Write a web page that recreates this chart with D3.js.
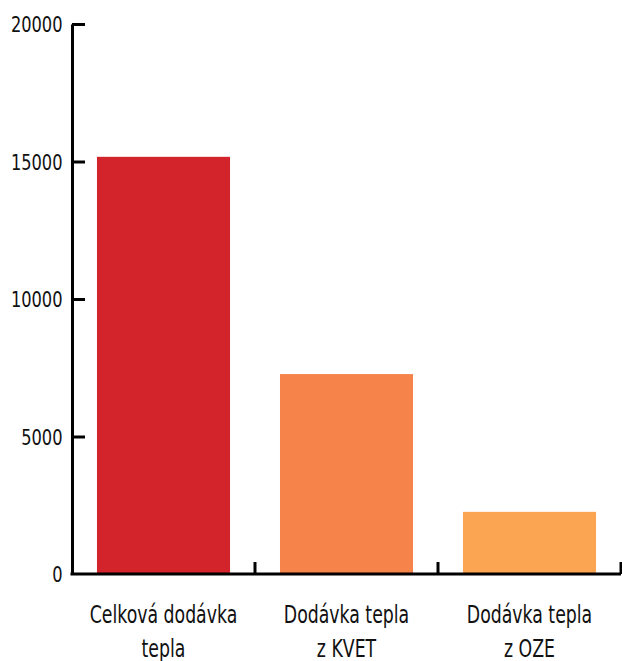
<!DOCTYPE html>
<html><head><meta charset="utf-8">
<script src="https://cdn.jsdelivr.net/npm/d3@7"></script>
<style>
body{margin:0;background:#fff;}
svg text{font-family:"DejaVu Sans Condensed","DejaVu Sans",sans-serif;fill:#111;}
</style></head><body>
<svg id="c" width="622" height="661"></svg>
<script>
const categories = ["Celková dodávka\ntepla", "Dodávka tepla\nz KVET", "Dodávka tepla\nz OZE"];
const values = [15170, 7270, 2260];
const colors = ["#d3242b", "#f5834a", "#fba553"];
const yTicks = [0, 5000, 10000, 15000, 20000];

const svg = d3.select("#c");
const mLeft = 72, mRight = 621, mTop = 24, mBottom = 574;

const x = d3.scaleBand().domain(categories).range([mLeft, mRight]).paddingInner(0.273).paddingOuter(0.1365);
const y = d3.scaleLinear().domain([0, 20000]).range([mBottom, mTop]);

svg.selectAll("rect.bar").data(values).enter().append("rect")
  .attr("class","bar")
  .attr("x",(d,i)=>x(categories[i]))
  .attr("width",x.bandwidth())
  .attr("y",d=>y(d))
  .attr("height",d=>y(0)-y(d))
  .attr("fill",(d,i)=>colors[i]);

// y axis
const ya = svg.append("g").attr("transform",`translate(${mLeft},0)`)
  .call(d3.axisLeft(y).tickValues(yTicks).tickSize(-13).tickSizeOuter(0).tickPadding(11).tickFormat(d3.format("d")));
ya.select(".domain").attr("stroke","#000").attr("stroke-width",3);
ya.selectAll(".tick line").attr("stroke","#000").attr("stroke-width",3);
ya.selectAll(".tick").filter(d=>d===0).select("line").remove();
ya.selectAll(".tick text").style("font-size","21px").attr("dy","0.36em").attr("transform","scale(0.86,1)");

// x axis
const xa = svg.append("g").attr("transform",`translate(0,${mBottom})`);
xa.append("line").attr("x1",mLeft-1.5).attr("x2",mRight).attr("y1",0).attr("y2",0).attr("stroke","#000").attr("stroke-width",3);
const bounds = categories.map(c => x(c) + x.bandwidth() + x.step()*x.paddingInner()/2);
xa.selectAll("line.tk").data(bounds).enter().append("line").attr("class","tk")
  .attr("x1",d=>d).attr("x2",d=>d).attr("y1",0).attr("y2",-12)
  .attr("stroke","#000").attr("stroke-width",3);
const lab = xa.selectAll("text.lab").data(categories).enter().append("text").attr("class","lab")
  .attr("text-anchor","middle")
  .attr("transform",d=>`translate(${x(d)+x.bandwidth()/2},0) scale(0.77,1)`)
  .style("font-size","25px");
lab.each(function(d){
  const t = d3.select(this);
  d.split("\n").forEach((s,i)=>{
    t.append("tspan").attr("x",0).attr("y",49 + i*34).text(s);
  });
});
</script>
</body></html>
